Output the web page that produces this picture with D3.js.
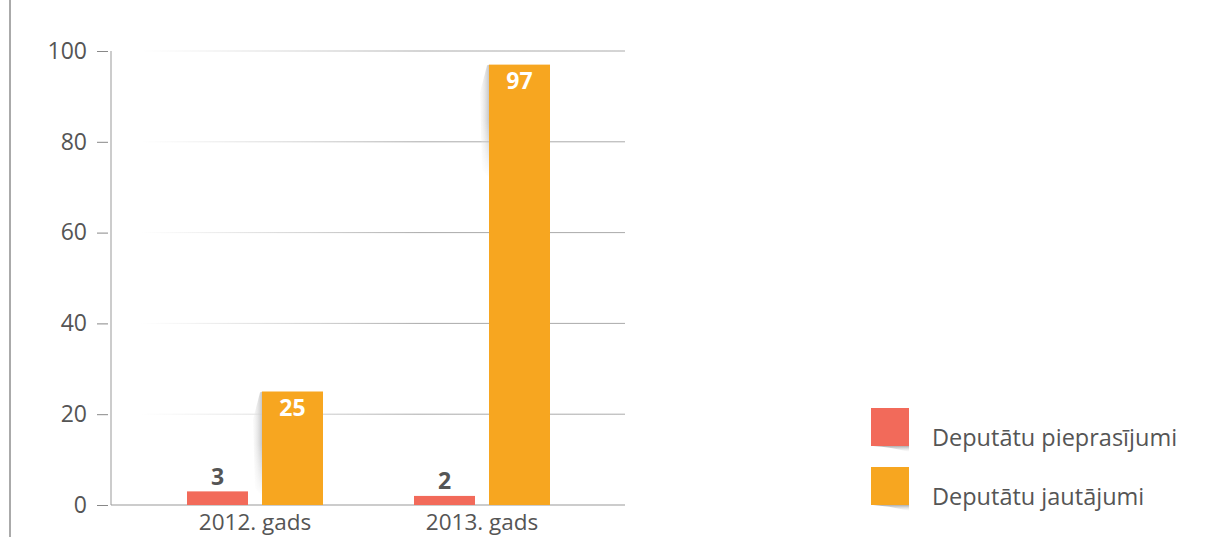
<!DOCTYPE html>
<html><head><meta charset="utf-8">
<script src="https://cdn.jsdelivr.net/npm/d3@7/dist/d3.min.js"></script>
<style>body{margin:0;background:#fff;} svg{display:block;} text{font-family:"Open Sans","Noto Sans",sans-serif;}</style>
</head><body>
<svg id="c" width="1206" height="537"></svg>
<script>
const categories = ["2012. gads", "2013. gads"];
const seriesNames = ["Deputātu pieprasījumi", "Deputātu jautājumi"];
const pieprasijumi = [3, 2];
const jautajumi = [25, 97];
const yTicks = [0, 20, 40, 60, 80, 100];
const colors = ["#F26A5A", "#F7A620"];
const FONT = '"Open Sans","Noto Sans",sans-serif';

const svg = d3.select("#c");
const defs = svg.append("defs");
const gg = defs.append("linearGradient").attr("id","grid").attr("gradientUnits","userSpaceOnUse")
  .attr("x1",140).attr("x2",420).attr("y1",0).attr("y2",0);
gg.append("stop").attr("offset",0).attr("stop-color","#bbb").attr("stop-opacity",0);
gg.append("stop").attr("offset",1).attr("stop-color","#aaa").attr("stop-opacity",1);
const sg = defs.append("linearGradient").attr("id","shadow").attr("x1",1).attr("x2",0).attr("y1",0).attr("y2",0);
sg.append("stop").attr("offset",0).attr("stop-color","#c4c4c4").attr("stop-opacity",0.95);
sg.append("stop").attr("offset",1).attr("stop-color","#eee").attr("stop-opacity",0.25);
const sv = defs.append("linearGradient").attr("id","shadowFade").attr("x1",0).attr("x2",0).attr("y1",0).attr("y2",1);
sv.append("stop").attr("offset",0).attr("stop-color","#fff").attr("stop-opacity",1);
sv.append("stop").attr("offset",0.5).attr("stop-color","#fff").attr("stop-opacity",1);
sv.append("stop").attr("offset",1).attr("stop-color","#fff").attr("stop-opacity",0);
const mask = defs.append("mask").attr("id","fadeMask").attr("maskContentUnits","objectBoundingBox");
mask.append("rect").attr("width",1).attr("height",1).attr("fill","url(#shadowFade)");
const lg = defs.append("linearGradient").attr("id","lshadow").attr("x1",0).attr("x2",0).attr("y1",0).attr("y2",1);
lg.append("stop").attr("offset",0).attr("stop-color","#999").attr("stop-opacity",0.8);
lg.append("stop").attr("offset",1).attr("stop-color","#ddd").attr("stop-opacity",0);

// left frame line
svg.append("line").attr("x1",10).attr("x2",10).attr("y1",0).attr("y2",537)
  .attr("stroke","#aaa").attr("stroke-width",2);

const y = d3.scaleLinear().domain([0,100]).range([505,51]);
const x0 = d3.scaleBand().domain(categories).range([141.5,595.5]).paddingInner(0).paddingOuter(0);
const x1 = d3.scaleBand().domain(seriesNames).range([-68,68]).paddingInner(0.1867).paddingOuter(0);

// gridlines
svg.append("g").selectAll("line").data(yTicks.filter(d=>d>0)).join("line")
  .attr("x1",111).attr("x2",625).attr("y1",d=>y(d)).attr("y2",d=>y(d))
  .attr("stroke","url(#grid)").attr("stroke-width",1);

// y axis
const yAxis = d3.axisLeft(y).tickValues(yTicks).tickSize(11).tickPadding(10);
const ya = svg.append("g").attr("transform","translate(108,0)").call(yAxis)
  .attr("font-family",FONT).attr("font-size",23);
ya.select(".domain").remove();
ya.selectAll(".tick line").attr("stroke","#888");
ya.selectAll(".tick text").attr("fill","#555");
svg.append("line").attr("x1",111).attr("x2",111).attr("y1",51).attr("y2",505).attr("stroke","#999");

// x axis
const xa = svg.append("g").attr("transform","translate(0,505)")
  .call(d3.axisBottom(x0).tickSize(0).tickPadding(9))
  .attr("font-family",FONT).attr("font-size",22.5);
xa.select(".domain").remove();
xa.selectAll(".tick text").attr("fill","#555").attr("dy","0.71em");
svg.append("line").attr("x1",111).attr("x2",625).attr("y1",505).attr("y2",505).attr("stroke","#999").attr("stroke-width",1.2);

const data = categories.map((c,i)=>({cat:c, vals:[pieprasijumi[i], jautajumi[i]]}));
const bars = svg.append("g");

data.forEach(d=>{
  const cx = x0(d.cat) + x0.bandwidth()/2;
  d.vals.forEach((v,k)=>{
    const bx = cx + x1(seriesNames[k]);
    const bw = x1.bandwidth();
    const top = y(v), bot = y(0);
    if (k===1) {
      const h = bot - top;
      const len = Math.min(h*0.85, 105);
      const p = `M${bx-2},${top+1} L${bx-9},${top+28} L${bx-7},${top+len} L${bx},${top+len+8} L${bx},${top} Z`;
      bars.append("path").attr("d",p).attr("fill","url(#shadow)").attr("mask","url(#fadeMask)");
    }
    bars.append("rect").attr("x",bx).attr("y",top).attr("width",bw).attr("height",bot-top).attr("fill",colors[k]);
    if (k===0) {
      bars.append("text").attr("x",bx+bw/2).attr("y",top-6.5).attr("text-anchor","middle")
        .attr("font-size",23).attr("font-weight",700).attr("fill","#555").text(v);
    } else {
      bars.append("text").attr("x",bx+bw/2).attr("y",top+24.5).attr("text-anchor","middle")
        .attr("font-size",23).attr("font-weight",700).attr("fill","#fff").text(v);
    }
  });
});

// legend
const leg = svg.append("g").selectAll("g").data(seriesNames).join("g")
  .attr("transform",(d,i)=>`translate(871,${408+i*59})`);
leg.append("path").attr("d","M2,38 L38,38 L38,44 Q20,39 2,38 Z").attr("fill","url(#lshadow)");
leg.append("rect").attr("width",38).attr("height",38).attr("fill",(d,i)=>colors[i]);
leg.append("text").attr("x",61).attr("y",38).attr("font-size",23.5).attr("fill","#555").text(d=>d);
</script>
</body></html>
